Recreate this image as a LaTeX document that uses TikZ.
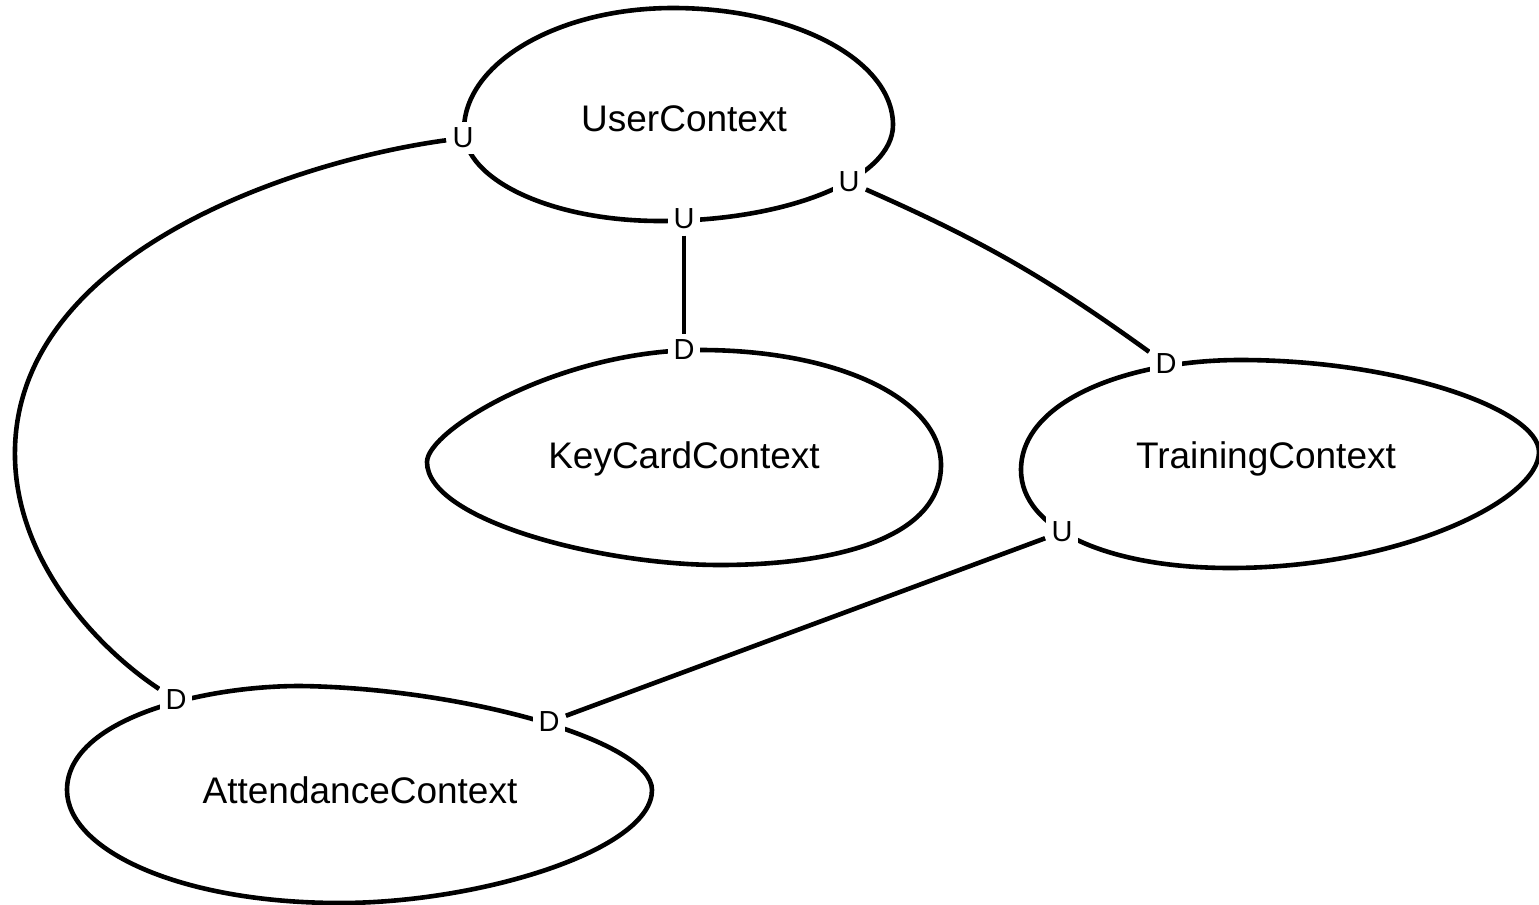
\documentclass[tikz,border=0pt]{standalone}
\usepackage{fontspec}
\setmainfont{Liberation Sans}
\pgfdeclarelayer{background layer}
\pgfsetlayers{background layer,main}

\begin{document}
\begin{tikzpicture}[x=0.5pt,y=-0.5pt]
\tikzstyle{context}=[anchor=base,inner sep=0pt,font=\fontsize{18.5}{22}\selectfont]
\tikzstyle{ending}=[fill=white,inner sep=3pt,font=\fontsize{14.5}{17}\selectfont]
\tikzstyle{outline}=[line width=2.3pt]
\tikzstyle{link}=[line width=2.3pt]
\useasboundingbox (0,0) rectangle (1539,905);
\node [context] at (684,131) (uc) {UserContext};
\node [context] at (684,468) (kc) {KeyCardContext};
\node [context] at (1266,468) (tc) {TrainingContext};
\node [context] at (360,803) (ac) {AttendanceContext};
\node [ending] at (463,138) (u1) {U};
\node [ending] at (684,219) (u2) {U};
\node [ending] at (849,182) (u3) {U};
\node [ending] at (1062,532) (u4) {U};
\node [ending] at (176,700) (d1) {D};
\node [ending] at (684,350) (d2) {D};
\node [ending] at (1166,364) (d3) {D};
\node [ending] at (549,722) (d4) {D};
\begin{pgfonlayer}{background layer}
% context outlines
\draw [outline] (464,130) .. controls (464,63) and (558,8) .. (673,8)
  .. controls (794,8) and (893,60) .. (893,125)
  .. controls (893,178) and (789,221) .. (660,221)
  .. controls (552,221) and (464,180) .. cycle;
\draw [outline] (427,462) .. controls (427,430) and (560,350) .. (700,350)
  .. controls (840,350) and (941,400) .. (941,465)
  .. controls (941,540) and (830,565) .. (720,565)
  .. controls (600,565) and (427,520) .. cycle;
\draw [outline] (1021,470) .. controls (1021,400) and (1130,360) .. (1240,360)
  .. controls (1400,360) and (1539,410) .. (1539,452)
  .. controls (1539,500) and (1400,568) .. (1230,568)
  .. controls (1110,568) and (1021,530) .. cycle;
\draw [outline] (67,790) .. controls (67,720) and (200,686) .. (300,686)
  .. controls (460,688) and (652,740) .. (652,790)
  .. controls (652,850) and (480,903) .. (340,903)
  .. controls (180,903) and (67,850) .. cycle;
% relations
\draw [link] (u1) .. controls (300,160) and (20,250) .. (15,448) .. controls (12,560) and (100,650) .. (d1);
\draw [link] (u2) -- (d2);
\draw [link] (u3) to [bend left=6] (d3);
\draw [link] (u4) -- (d4);
\end{pgfonlayer}
\end{tikzpicture}
\end{document}
